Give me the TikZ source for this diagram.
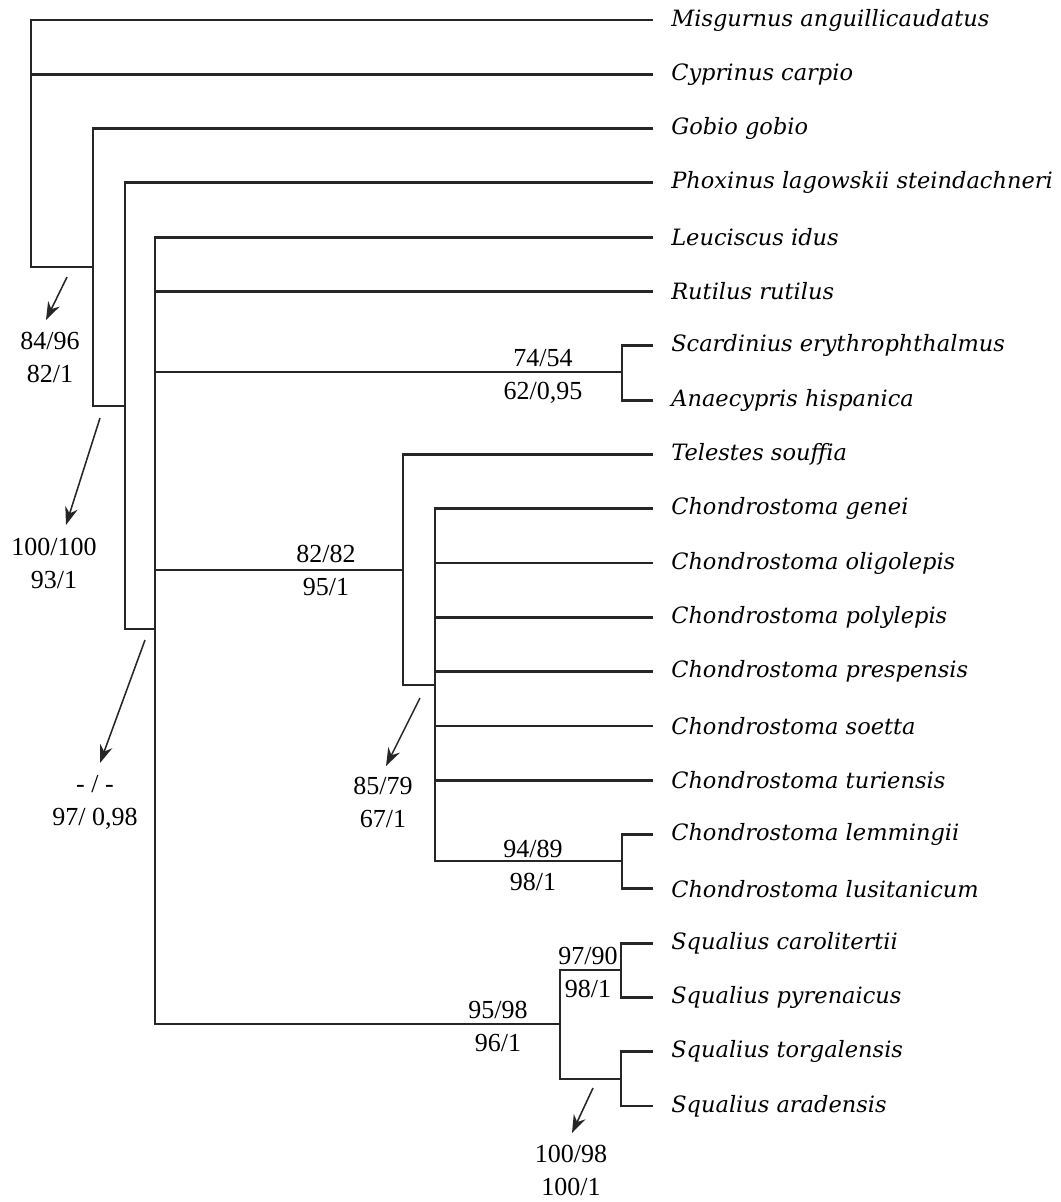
\documentclass[tikz,border=0pt]{standalone}
\usepackage{fontspec}
\setmainfont{Liberation Serif}
\newfontfamily\taxonfont{DejaVu Serif}
\usetikzlibrary{arrows.meta,positioning}

\begin{document}
\begin{tikzpicture}[
  x=0.025cm,y=-0.025cm,
  branch/.style={line width=2pt,black!85},
  taxon/.style={inner sep=0pt,font=\taxonfont\itshape\fontsize{16}{19}\selectfont},
  support/.style={align=center,inner sep=0pt,font=\fontsize{18.5}{23.5}\selectfont},
  pointer/.style={-{Stealth[length=4.5mm,width=3.2mm]},line width=1.1pt,black!85}
]
  \useasboundingbox (0,0) rectangle (1060,1202);
  % tips and names
  \foreach \name [count=\i from 0] in {Misgurnus anguillicaudatus,Cyprinus carpio,
    Gobio gobio,Phoxinus lagowskii steindachneri,Leuciscus idus,Rutilus rutilus,
    Scardinius erythrophthalmus,Anaecypris hispanica,Telestes souffia,
    Chondrostoma genei,Chondrostoma oligolepis,Chondrostoma polylepis,
    Chondrostoma prespensis,Chondrostoma soetta,Chondrostoma turiensis,
    Chondrostoma lemmingii,Chondrostoma lusitanicum,Squalius carolitertii,
    Squalius pyrenaicus,Squalius torgalensis,Squalius aradensis}{
    \coordinate (e\i) at (653,20+54.3*\i);
    \node[taxon,right=0.45cm of e\i] (t\i) {\name};
  }
  % internal nodes
  \coordinate (v0) at (31,267);
  \coordinate (v1) at (93,406);
  \coordinate (v2) at (125,629);
  \coordinate (v3) at (155,1024);
  \coordinate (sc) at (622,372);
  \coordinate (ts) at (403,570);
  \coordinate (te) at (403,685);
  \coordinate (ch) at (435,861);
  \coordinate (le) at (622,861);
  \coordinate (sq) at (560,1024);
  \coordinate (sq1) at (621,970);
  \coordinate (sq2) at (621,1079);

  \draw[branch] (e0) -| (v0) -- (v0 -| v1);
  \draw[branch] (e1) -- (e1 -| v0);
  \draw[branch] (e2) -| (v1) -- (v1 -| v2);
  \draw[branch] (e3) -| (v2) -- (v2 -| v3);
  \draw[branch] (e4) -| (v3) -- (sq);
  \draw[branch] (e5) -- (e5 -| v3);
  \draw[branch] (e6) -| (sc) |- (e7);
  \draw[branch] (sc) -- (sc -| v3);
  \draw[branch] (e8) -| (te) -- (te -| ch);
  \draw[branch] (ts) -- (ts -| v3);
  \draw[branch] (e9) -| (ch) -- (le);
  \foreach \i in {10,...,14}
    \draw[branch] (e\i) -- (e\i -| ch);
  \draw[branch] (e15) -| (le) |- (e16);
  \draw[branch] (e17) -| (sq1) |- (e18);
  \draw[branch] (e19) -| (sq2) |- (e20);
  \draw[branch] (sq1) -- (sq1 -| sq) -- (sq2 -| sq) -- (sq2);

  % support values
  \node[support] (b1) at (50,357) {84/96\\82/1};
  \node[support] (b2) at (54,563) {100/100\\93/1};
  \node[support] (b3) at (95,802) {- / -\\97/ 0,98};
  \node[support] (b4) at (543,376) {74/54\\62/0,95};
  \node[support] (b5) at (326,570) {82/82\\95/1};
  \node[support] (b6) at (383,802) {85/79\\67/1};
  \node[support] (b7) at (533,865) {94/89\\98/1};
  \node[support] (b8) at (498,1026) {95/98\\96/1};
  \node[support] (b9) at (588,972) {97/90\\98/1};
  \node[support] (b10) at (571,1170) {100/98\\100/1};

  \coordinate (a1) at (67,277);  \coordinate (p1) at (46,320);
  \coordinate (a2) at (100,418); \coordinate (p2) at (66,525);
  \coordinate (a3) at (145,640); \coordinate (p3) at (100,763);
  \coordinate (a4) at (420,698); \coordinate (p4) at (386,766);
  \coordinate (a5) at (593,1088); \coordinate (p5) at (572,1133);
  \foreach \i in {1,...,5}
    \draw[pointer] (a\i) -- (p\i);
\end{tikzpicture}
\end{document}
